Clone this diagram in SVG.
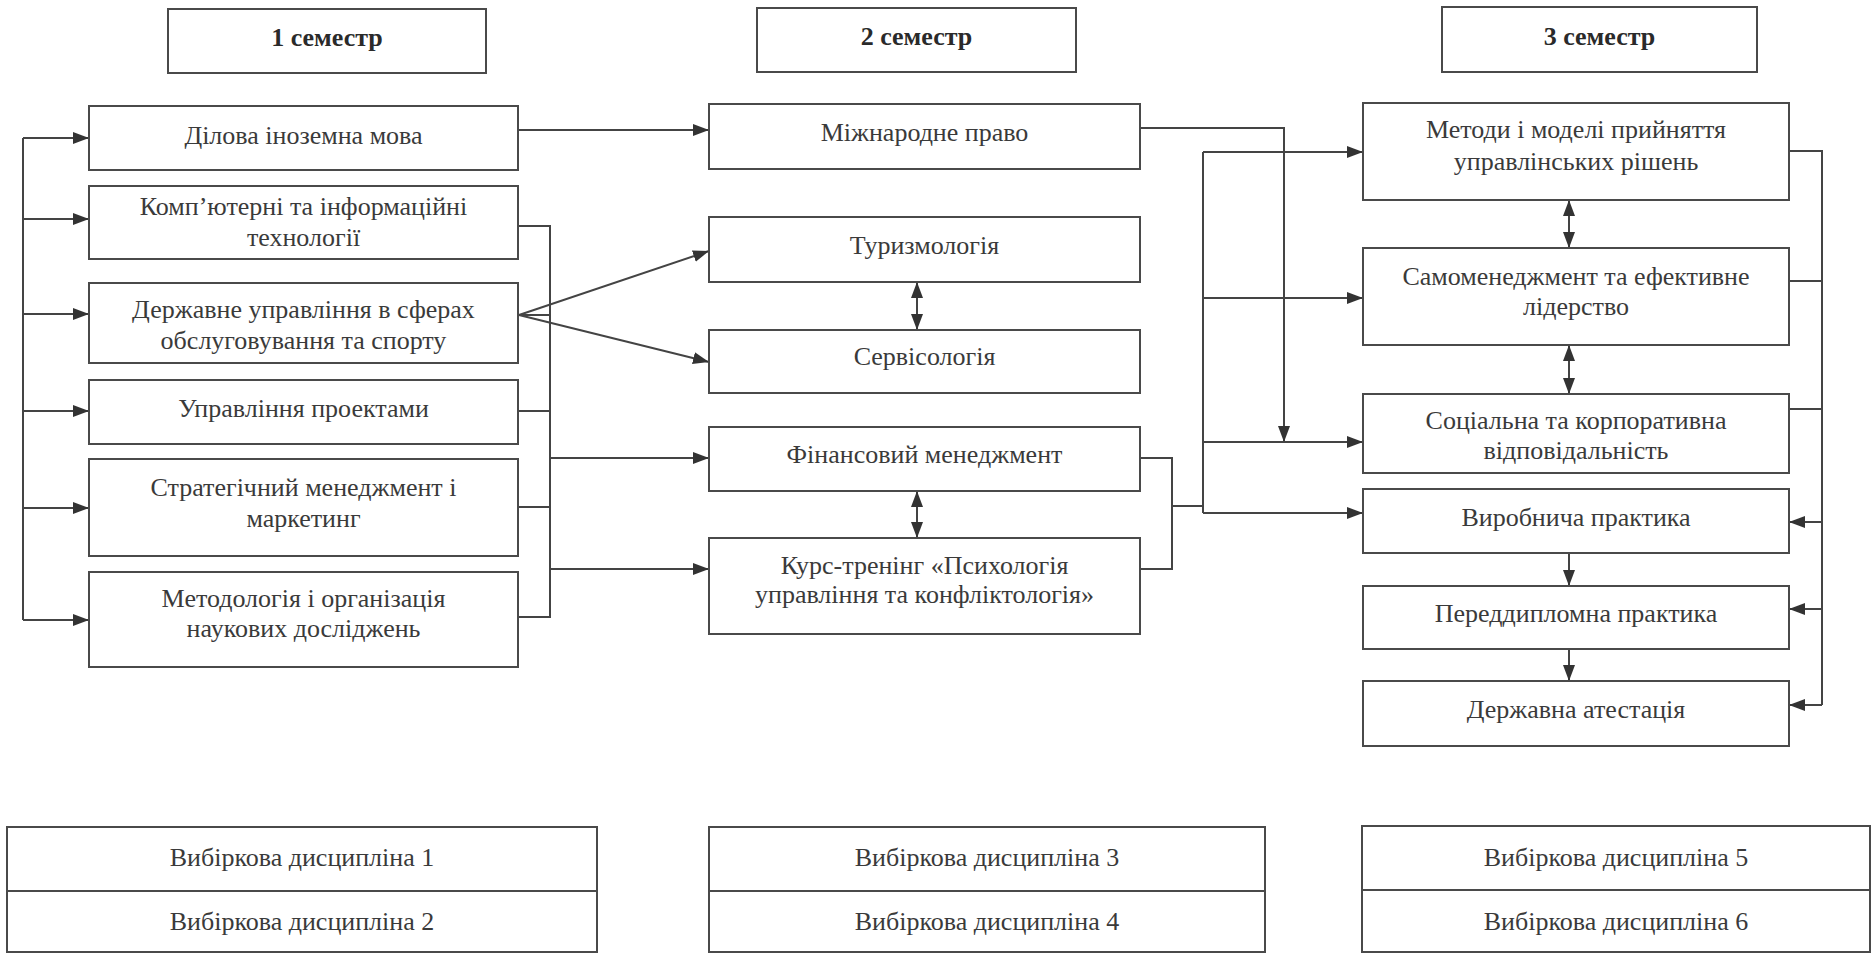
<svg xmlns="http://www.w3.org/2000/svg" width="1875" height="953" viewBox="0 0 1875 953">
<style>
  .box { fill: #ffffff; stroke: #4a4a4a; stroke-width: 2; }
  .t { font-family: "Liberation Serif", "Times New Roman", serif; font-size: 26px; fill: #3a3a3a; text-anchor: middle; }
  .h { font-weight: bold; fill: #2a2a2a; }
  .c { fill: none; stroke: #444444; stroke-width: 2; }
  .a { marker-end: url(#ah); }
  .d { marker-start: url(#ah); marker-end: url(#ah); }
</style>
<defs>
  <marker id="ah" markerUnits="userSpaceOnUse" markerWidth="16" markerHeight="12" refX="16" refY="6" orient="auto-start-reverse">
    <path d="M0,0 L16,6 L0,12 z" fill="#333333"/>
  </marker>
</defs>
<rect width="1875" height="953" fill="#ffffff"/>

<g id="connectors">
  <path class="c" d="M23,138 V620"/>
  <path class="c a" d="M23,138 H89"/>
  <path class="c a" d="M23,219 H89"/>
  <path class="c a" d="M23,314 H89"/>
  <path class="c a" d="M23,411 H89"/>
  <path class="c a" d="M23,508 H89"/>
  <path class="c a" d="M23,620 H89"/>
  <path class="c a" d="M518,130 H709"/>
  <path class="c" d="M518,226 H550 V617 H518"/>
  <path class="c" d="M519,315 H550"/>
  <path class="c" d="M518,411 H550"/>
  <path class="c" d="M518,507 H550"/>
  <path class="c a" d="M550,458 H709"/>
  <path class="c a" d="M550,569 H709"/>
  <path class="c a" d="M519,315 L709,251"/>
  <path class="c a" d="M519,315 L709,362"/>
  <path class="c d" d="M917,282 V330"/>
  <path class="c d" d="M917,491 V538"/>
  <path class="c a" d="M1140,128 H1284 V442"/>
  <path class="c" d="M1140,458 H1172 V569 H1140"/>
  <path class="c" d="M1172,506 H1203"/>
  <path class="c" d="M1203,152 V513"/>
  <path class="c a" d="M1203,152 H1363"/>
  <path class="c a" d="M1203,298 H1363"/>
  <path class="c a" d="M1203,442 H1363"/>
  <path class="c a" d="M1203,513 H1363"/>
  <path class="c d" d="M1569,200 V248"/>
  <path class="c d" d="M1569,345 V394"/>
  <path class="c a" d="M1569,553 V586"/>
  <path class="c a" d="M1569,649 V681"/>
  <path class="c" d="M1789,151 H1822 V705"/>
  <path class="c" d="M1789,281 H1822"/>
  <path class="c" d="M1789,409 H1822"/>
  <path class="c a" d="M1822,522 H1789"/>
  <path class="c a" d="M1822,609 H1789"/>
  <path class="c a" d="M1822,705 H1789"/>
</g>

<g id="sem1">
  <rect class="box" x="168" y="9" width="318" height="64"/>
  <text class="t h" x="327" y="46">1 семестр</text>
</g>
<g id="sem2">
  <rect class="box" x="757" y="8" width="319" height="64"/>
  <text class="t h" x="916.5" y="45">2 семестр</text>
</g>
<g id="sem3">
  <rect class="box" x="1442" y="7" width="315" height="65"/>
  <text class="t h" x="1599.5" y="45">3 семестр</text>
</g>

<g id="n-dilova">
  <rect class="box" x="89" y="106" width="429" height="64"/>
  <text class="t" x="303.5" y="144">Ділова іноземна мова</text>
</g>
<g id="n-komp">
  <rect class="box" x="89" y="186" width="429" height="73"/>
  <text class="t" x="303.5" y="215">Комп’ютерні та інформаційні</text>
  <text class="t" x="303.5" y="246">технології</text>
</g>
<g id="n-derzh">
  <rect class="box" x="89" y="283" width="429" height="80"/>
  <text class="t" x="303.5" y="318">Державне управління в сферах</text>
  <text class="t" x="303.5" y="349">обслуговування та спорту</text>
</g>
<g id="n-proekty">
  <rect class="box" x="89" y="380" width="429" height="64"/>
  <text class="t" x="303.5" y="417">Управління проектами</text>
</g>
<g id="n-strateg">
  <rect class="box" x="89" y="459" width="429" height="97"/>
  <text class="t" x="303.5" y="496">Стратегічний менеджмент і</text>
  <text class="t" x="303.5" y="527">маркетинг</text>
</g>
<g id="n-metod">
  <rect class="box" x="89" y="572" width="429" height="95"/>
  <text class="t" x="303.5" y="607">Методологія і організація</text>
  <text class="t" x="303.5" y="637">наукових досліджень</text>
</g>

<g id="n-mizhnar">
  <rect class="box" x="709" y="104" width="431" height="65"/>
  <text class="t" x="924.5" y="141">Міжнародне право</text>
</g>
<g id="n-turyzm">
  <rect class="box" x="709" y="217" width="431" height="65"/>
  <text class="t" x="924.5" y="254">Туризмологія</text>
</g>
<g id="n-servis">
  <rect class="box" x="709" y="330" width="431" height="63"/>
  <text class="t" x="924.5" y="365">Сервісологія</text>
</g>
<g id="n-fin">
  <rect class="box" x="709" y="427" width="431" height="64"/>
  <text class="t" x="924.5" y="463">Фінансовий менеджмент</text>
</g>
<g id="n-kurs">
  <rect class="box" x="709" y="538" width="431" height="96"/>
  <text class="t" x="924.5" y="574">Курс-тренінг «Психологія</text>
  <text class="t" x="924.5" y="603">управління та конфліктологія»</text>
</g>

<g id="n-metody">
  <rect class="box" x="1363" y="103" width="426" height="97"/>
  <text class="t" x="1576" y="138">Методи і моделі прийняття</text>
  <text class="t" x="1576" y="170">управлінських рішень</text>
</g>
<g id="n-samo">
  <rect class="box" x="1363" y="248" width="426" height="97"/>
  <text class="t" x="1576" y="285">Самоменеджмент та ефективне</text>
  <text class="t" x="1576" y="315">лідерство</text>
</g>
<g id="n-social">
  <rect class="box" x="1363" y="394" width="426" height="79"/>
  <text class="t" x="1576" y="429">Соціальна та корпоративна</text>
  <text class="t" x="1576" y="459">відповідальність</text>
</g>
<g id="n-vyrob">
  <rect class="box" x="1363" y="489" width="426" height="64"/>
  <text class="t" x="1576" y="526">Виробнича практика</text>
</g>
<g id="n-peredd">
  <rect class="box" x="1363" y="586" width="426" height="63"/>
  <text class="t" x="1576" y="622">Переддипломна практика</text>
</g>
<g id="n-atest">
  <rect class="box" x="1363" y="681" width="426" height="65"/>
  <text class="t" x="1576" y="718">Державна атестація</text>
</g>

<g id="elective-1">
  <rect class="box" x="7" y="827" width="590" height="125"/>
  <line x1="7" y1="891" x2="597" y2="891" stroke="#4a4a4a" stroke-width="2"/>
  <text class="t" x="302" y="866">Вибіркова дисципліна 1</text>
  <text class="t" x="302" y="930">Вибіркова дисципліна 2</text>
</g>
<g id="elective-2">
  <rect class="box" x="709" y="827" width="556" height="125"/>
  <line x1="709" y1="891" x2="1265" y2="891" stroke="#4a4a4a" stroke-width="2"/>
  <text class="t" x="987" y="866">Вибіркова дисципліна 3</text>
  <text class="t" x="987" y="930">Вибіркова дисципліна 4</text>
</g>
<g id="elective-3">
  <rect class="box" x="1362" y="826" width="508" height="126"/>
  <line x1="1362" y1="890" x2="1870" y2="890" stroke="#4a4a4a" stroke-width="2"/>
  <text class="t" x="1616" y="866">Вибіркова дисципліна 5</text>
  <text class="t" x="1616" y="930">Вибіркова дисципліна 6</text>
</g>
</svg>
